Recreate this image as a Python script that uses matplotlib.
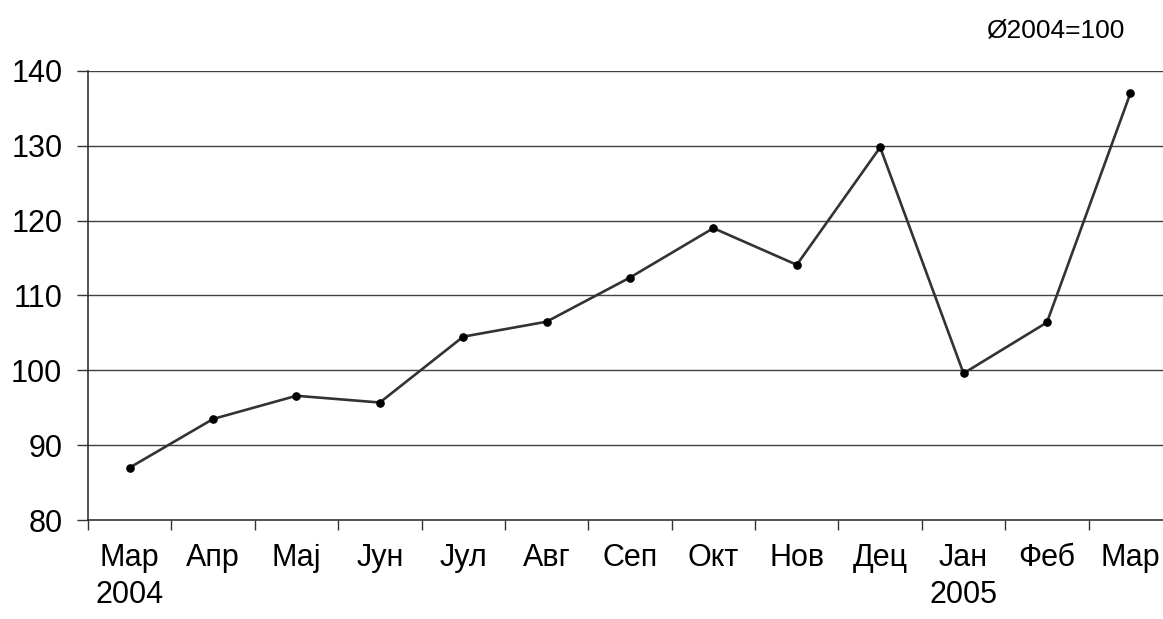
import matplotlib
matplotlib.use("Agg")
import matplotlib.pyplot as plt
import numpy as np

plt.rcParams['font.family'] = ['Liberation Sans', 'DejaVu Sans']

months = ["Мар\n2004", "Апр", "Мај", "Јун", "Јул", "Авг", "Сеп", "Окт", "Нов", "Дец", "Јан\n2005", "Феб", "Мар"]
values = [87.0, 93.5, 96.6, 95.7, 104.5, 106.5, 112.4, 119.0, 114.1, 129.8, 99.6, 106.4, 137.0]
yticks = [80, 90, 100, 110, 120, 130, 140]
note = "Ø2004=100"

W, H = 1163, 619
fig = plt.figure(figsize=(W / 100, H / 100), dpi=100)
left, right, bottom, top = 88, 1172, 520, 71
ax = fig.add_axes([left / W, (H - bottom) / H, (right - left) / W, (bottom - top) / H])

x = np.arange(len(values))
ax.set_xlim(-0.5, len(values) - 0.5)
ax.set_ylim(80, 140)

for yv in yticks[1:]:
    ax.axhline(yv, color='#404040', lw=1.0, zorder=1)

ax.plot(x, values, color='#333333', lw=1.9, zorder=3, clip_on=False)
ax.plot(x, values, 'o', color='black', ms=5.2, zorder=4, clip_on=False)

ax.set_yticks(yticks)
ax.set_yticklabels([str(v) for v in yticks], fontsize=22)
ax.tick_params(axis='y', direction='out', length=8, width=1, pad=10.5, color='#333333')

ax.set_xticks(x)
ax.set_xticklabels(months, fontsize=22, linespacing=1.3, va='top')
ax.tick_params(axis='x', which='major', length=0, pad=16.5)
ax.set_xticks(np.arange(-0.5, len(values), 1.0), minor=True)
ax.tick_params(axis='x', which='minor', direction='out', length=7.2, width=1, color='#333333')

for s in ['top', 'right']:
    ax.spines[s].set_visible(False)
for s in ['left', 'bottom']:
    ax.spines[s].set_color('#333333')
    ax.spines[s].set_linewidth(1.2)

fig.text(1124 / W, 1 - 30 / H, note, fontsize=19, ha='right', va='center')

fig.savefig("out.png", dpi=100)
